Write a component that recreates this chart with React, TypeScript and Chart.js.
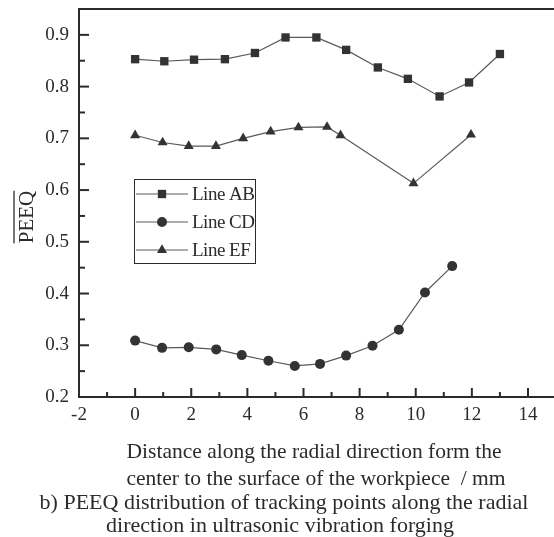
import React, { useEffect, useRef } from "react";
import { Chart, registerables } from "chart.js";

Chart.register(...registerables);

const abX = [0, 1.04, 2.1, 3.2, 4.27, 5.36, 6.46, 7.52, 8.65, 9.72, 10.85, 11.9, 13.0];
const abY = [0.853, 0.849, 0.852, 0.853, 0.865, 0.895, 0.895, 0.871, 0.837, 0.815, 0.781, 0.808, 0.863];
const cdX = [0, 0.96, 1.91, 2.89, 3.8, 4.75, 5.69, 6.59, 7.52, 8.46, 9.4, 10.33, 11.3];
const cdY = [0.309, 0.295, 0.296, 0.292, 0.281, 0.27, 0.26, 0.264, 0.28, 0.299, 0.33, 0.402, 0.453];
const efX = [0, 0.98, 1.91, 2.88, 3.85, 4.83, 5.82, 6.84, 7.32, 9.92, 11.97];
const efY = [0.706, 0.692, 0.685, 0.685, 0.7, 0.713, 0.721, 0.722, 0.706, 0.613, 0.707];

const seriesNames = ["Line AB", "Line CD", "Line EF"];
const pointStyles = ["rect", "circle", "triangle"];
const pointRadii = [5.9, 5, 5.8];

const xTicks = [-2, 0, 2, 4, 6, 8, 10, 12, 14];
const yTicks = [0.2, 0.3, 0.4, 0.5, 0.6, 0.7, 0.8, 0.9];

const yTitle = "PEEQ";
const xTitleLines = [
  "Distance along the radial direction form the",
  "center to the surface of the workpiece  / mm",
];
const captionLines = [
  "b) PEEQ distribution of tracking points along the radial",
  "direction in ultrasonic vibration forging",
];

const FONT = "'Liberation Serif', 'Times New Roman', serif";
const INK = "#2b2b2b";

function drawMarker(ctx: CanvasRenderingContext2D, style: string, r: number, x: number, y: number) {
  ctx.beginPath();
  if (style === "rect") {
    const s = Math.SQRT1_2 * r;
    ctx.rect(x - s, y - s, 2 * s, 2 * s);
  } else if (style === "circle") {
    ctx.arc(x, y, r, 0, Math.PI * 2);
  } else {
    ctx.moveTo(x, y - r);
    ctx.lineTo(x + r * 0.866, y + r / 2);
    ctx.lineTo(x - r * 0.866, y + r / 2);
    ctx.closePath();
  }
  ctx.fill();
}

const decorPlugin = {
  id: "decor",
  afterDraw(chart: any) {
    const { ctx, chartArea } = chart;
    const xs = chart.scales.x;
    const ys = chart.scales.y;
    ctx.save();
    // frame
    ctx.strokeStyle = INK;
    ctx.lineWidth = 2;
    ctx.strokeRect(chartArea.left, chartArea.top, chartArea.right - chartArea.left, chartArea.bottom - chartArea.top);
    // ticks (inside)
    for (let v = -2; v <= 16; v += 1) {
      const px = xs.getPixelForValue(v);
      const len = v % 2 === 0 ? 9 : 5;
      ctx.beginPath();
      ctx.moveTo(px, chartArea.bottom);
      ctx.lineTo(px, chartArea.bottom - len);
      ctx.stroke();
    }
    for (let i = 0; i <= 15; i++) {
      const v = 0.2 + i * 0.05;
      const py = ys.getPixelForValue(v);
      const len = i % 2 === 0 ? 10 : 6;
      ctx.beginPath();
      ctx.moveTo(chartArea.left, py);
      ctx.lineTo(chartArea.left + len, py);
      ctx.stroke();
    }
    // y title with overline
    ctx.fillStyle = INK;
    ctx.font = `21px ${FONT}`;
    ctx.translate(27, 217);
    ctx.rotate(-Math.PI / 2);
    ctx.textAlign = "center";
    ctx.textBaseline = "middle";
    ctx.fillText(yTitle, 0, 0);
    const w = ctx.measureText(yTitle).width;
    ctx.lineWidth = 1.3;
    ctx.beginPath();
    ctx.moveTo(-w / 2, -13);
    ctx.lineTo(w / 2, -13);
    ctx.stroke();
    ctx.setTransform(1, 0, 0, 1, 0, 0);
    // x title and caption
    ctx.textAlign = "center";
    ctx.textBaseline = "alphabetic";
    ctx.font = `21.5px ${FONT}`;
    ctx.fillText(xTitleLines[0], 314, 458);
    ctx.fillText(xTitleLines[1], 316, 485);
    ctx.font = `22px ${FONT}`;
    ctx.fillText(captionLines[0], 284, 509);
    ctx.fillText(captionLines[1], 280, 532);
    // legend
    ctx.lineWidth = 1;
    ctx.strokeStyle = INK;
    ctx.strokeRect(134.5, 179.5, 121, 84);
    const rows = [194, 222, 250];
    chart.data.datasets.forEach((ds: any, i: number) => {
      const y = rows[i];
      ctx.strokeStyle = ds.borderColor;
      ctx.lineWidth = 1.2;
      ctx.beginPath();
      ctx.moveTo(136, y);
      ctx.lineTo(188, y);
      ctx.stroke();
      ctx.fillStyle = ds.pointBackgroundColor;
      drawMarker(ctx, ds.pointStyle, ds.pointRadius, 162, y);
      ctx.fillStyle = INK;
      ctx.font = `19px ${FONT}`;
      (ctx as any).letterSpacing = "-0.5px";
      ctx.textAlign = "left";
      ctx.textBaseline = "middle";
      ctx.fillText(ds.label, 192, y + 1);
      (ctx as any).letterSpacing = "0px";
    });
    ctx.restore();
  },
};

export default function App() {
  const ref = useRef<HTMLCanvasElement>(null);
  useEffect(() => {
    if (!ref.current) return;
    const mk = (i: number, xs: number[], ys: number[]) => ({
      label: seriesNames[i],
      data: xs.map((x, k) => ({ x, y: ys[k] })),
      borderColor: "#5a5a5a",
      borderWidth: 1.2,
      pointStyle: pointStyles[i],
      pointRadius: pointRadii[i],
      pointBackgroundColor: "#333",
      pointBorderColor: "#333",
      pointBorderWidth: 0,
      tension: 0,
      fill: false,
    });
    const chart = new Chart(ref.current, {
      type: "line",
      data: {
        datasets: [mk(0, abX, abY), mk(1, cdX, cdY), mk(2, efX, efY)] as any,
      },
      options: {
        animation: false,
        responsive: false,
        devicePixelRatio: 1,
        layout: { padding: { left: 0, top: 9, right: 2, bottom: 110 } },
        plugins: { legend: { display: false }, tooltip: { enabled: false } },
        scales: {
          x: {
            type: "linear",
            min: -2,
            max: 16,
            grid: { display: false, drawTicks: false },
            border: { display: false },
            ticks: { color: INK, font: { family: FONT, size: 19 }, padding: 7 },
            afterBuildTicks: (s: any) => {
              s.ticks = xTicks.map((v) => ({ value: v }));
            },
            afterFit: (s: any) => {
              s.height = 30;
              s.paddingLeft = 0;
              s.paddingRight = 0;
            },
          },
          y: {
            type: "linear",
            min: 0.2,
            max: 0.95,
            grid: { display: false, drawTicks: false },
            border: { display: false },
            ticks: {
              color: INK,
              font: { family: FONT, size: 19 },
              padding: 10,
              callback: (v: any) => Number(v).toFixed(1),
            },
            afterBuildTicks: (s: any) => {
              s.ticks = yTicks.map((v) => ({ value: v }));
            },
            afterFit: (s: any) => {
              s.width = 79;
              s.paddingTop = 0;
              s.paddingBottom = 0;
            },
          },
        },
      },
      plugins: [decorPlugin],
    });
    return () => chart.destroy();
  }, []);
  return (
    <div style={{ position: "fixed", left: 0, top: 0, width: 554, height: 537, overflow: "hidden", background: "#fff" }}>
      <canvas ref={ref} width={590} height={537} />
    </div>
  );
}
